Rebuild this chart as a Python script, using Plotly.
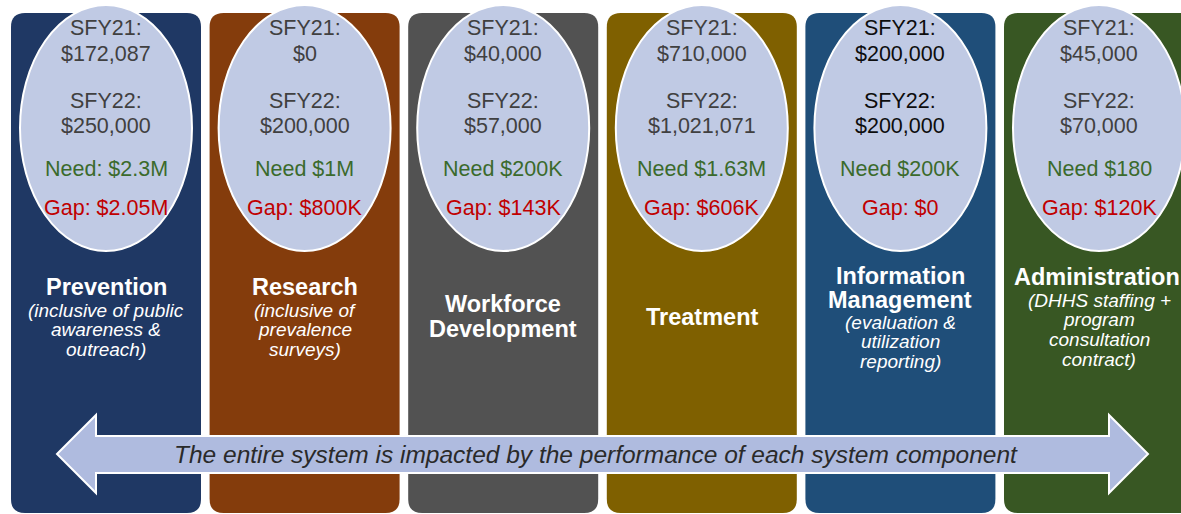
import plotly.graph_objects as go

# ---------------- data ----------------
categories = ["Prevention", "Research", "Workforce Development", "Treatment",
              "Information Management", "Administration"]
title_lines = [["Prevention"], ["Research"], ["Workforce", "Development"], ["Treatment"],
               ["Information", "Management"], ["Administration"]]
subtitle_lines = [["(inclusive of public", "awareness &", "outreach)"],
                  ["(inclusive of", "prevalence", "surveys)"],
                  [], [],
                  ["(evaluation &", "utilization", "reporting)"],
                  ["(DHHS staffing +", "program", "consultation", "contract)"]]
sfy21 = ["$172,087", "$0", "$40,000", "$710,000", "$200,000", "$45,000"]
sfy22 = ["$250,000", "$200,000", "$57,000", "$1,021,071", "$200,000", "$70,000"]
need = ["Need: $2.3M", "Need $1M", "Need $200K", "Need $1.63M", "Need $200K", "Need $180"]
gap = ["Gap: $2.05M", "Gap: $800K", "Gap: $143K", "Gap: $606K", "Gap: $0", "Gap: $120K"]
arrow_text = "The entire system is impacted by the performance of each system component"

# ---------------- styles / layout ----------------
col_colors = ["#1F3864", "#843C0C", "#525252", "#7F6000", "#1F4E79", "#385723"]
sfy_colors = ["#404040", "#404040", "#404040", "#404040", "#0D0D0D", "#404040"]
need_color = "#3B6A2C"
gap_color = "#C00000"
ellipse_fill = "#C0CAE4"
arrow_fill = "#AFBBDF"
FONT = "Liberation Sans, Arial, sans-serif"

W, H = 1181, 514
col_left0, col_step, col_w = 11, 198.6, 190
col_top, col_bot, radius = 13, 513, 14
ell_rx, ell_top, ell_bot = 86, 5, 251
value_y = [28, 54, 101, 126, 169, 208]
title_y = [[287], [287], [304, 329], [317], [276, 300], [277]]
sub_start = [310, 310, 0, 0, 322, 300]
sub_step = 19.7
title_x_shift = [0, 0, 0, 0, 0, -2]

shapes = []
annotations = []


def rounded_rect(x0, y0, x1, y1, r):
    return (f"M {x0+r},{y0} L {x1-r},{y0} Q {x1},{y0} {x1},{y0+r} "
            f"L {x1},{y1-r} Q {x1},{y1} {x1-r},{y1} L {x0+r},{y1} "
            f"Q {x0},{y1} {x0},{y1-r} L {x0},{y0+r} Q {x0},{y0} {x0+r},{y0} Z")


for i, cat in enumerate(categories):
    x0 = col_left0 + i * col_step
    x1 = x0 + col_w
    cx = (x0 + x1) / 2
    shapes.append(dict(type="path", path=rounded_rect(x0, col_top, x1, col_bot, radius),
                       fillcolor=col_colors[i], line=dict(width=0), layer="below"))
    shapes.append(dict(type="circle", x0=cx - ell_rx, x1=cx + ell_rx, y0=ell_top, y1=ell_bot,
                       fillcolor=ellipse_fill, line=dict(color="white", width=2), layer="below"))
    texts = [("SFY21:", sfy_colors[i]), (sfy21[i], sfy_colors[i]),
             ("SFY22:", sfy_colors[i]), (sfy22[i], sfy_colors[i]),
             (need[i], need_color), (gap[i], gap_color)]
    for (t, c), y in zip(texts, value_y):
        annotations.append(dict(x=cx, y=y, text=t, showarrow=False, xanchor="center",
                                yanchor="middle", font=dict(family=FONT, size=21.5, color=c)))
    tx = cx + title_x_shift[i]
    for t, y in zip(title_lines[i], title_y[i]):
        annotations.append(dict(x=tx, y=y, text=f"<b>{t}</b>", showarrow=False,
                                xanchor="center", yanchor="middle",
                                font=dict(family=FONT, size=23.5, color="white")))
    for k, t in enumerate(subtitle_lines[i]):
        annotations.append(dict(x=cx, y=sub_start[i] + k * sub_step, text=f"<i>{t}</i>",
                                showarrow=False, xanchor="center", yanchor="middle",
                                font=dict(family=FONT, size=19, color="white")))

# double-headed arrow
ax0, ax1, ahead = 57, 1148, 39
sy0, sy1, hy0, hy1, ymid = 436, 473, 415, 493, 454
arrow_path = (f"M {ax0},{ymid} L {ax0+ahead},{hy0} L {ax0+ahead},{sy0} L {ax1-ahead},{sy0} "
              f"L {ax1-ahead},{hy0} L {ax1},{ymid} L {ax1-ahead},{hy1} L {ax1-ahead},{sy1} "
              f"L {ax0+ahead},{sy1} L {ax0+ahead},{hy1} Z")
shapes.append(dict(type="path", path=arrow_path, fillcolor=arrow_fill,
                   line=dict(color="white", width=2), layer="above"))
annotations.append(dict(x=596, y=ymid, text=f"<i>{arrow_text}</i>", showarrow=False,
                        xanchor="center", yanchor="middle",
                        font=dict(family=FONT, size=24.5, color="#2A2A2A")))

fig = go.Figure()
fig.add_trace(go.Scatter(x=[0, W], y=[0, H], mode="markers",
                         marker=dict(opacity=0), hoverinfo="skip", showlegend=False))
fig.update_layout(
    width=W, height=H, margin=dict(l=0, r=0, t=0, b=0),
    paper_bgcolor="white", plot_bgcolor="white",
    xaxis=dict(range=[0, W], visible=False, fixedrange=True),
    yaxis=dict(range=[H, 0], visible=False, fixedrange=True),
    shapes=shapes, annotations=annotations, showlegend=False,
)
fig.write_html("out.html", config={"displayModeBar": False},
               post_script="document.body.style.margin='0px';document.body.style.overflow='hidden';")
